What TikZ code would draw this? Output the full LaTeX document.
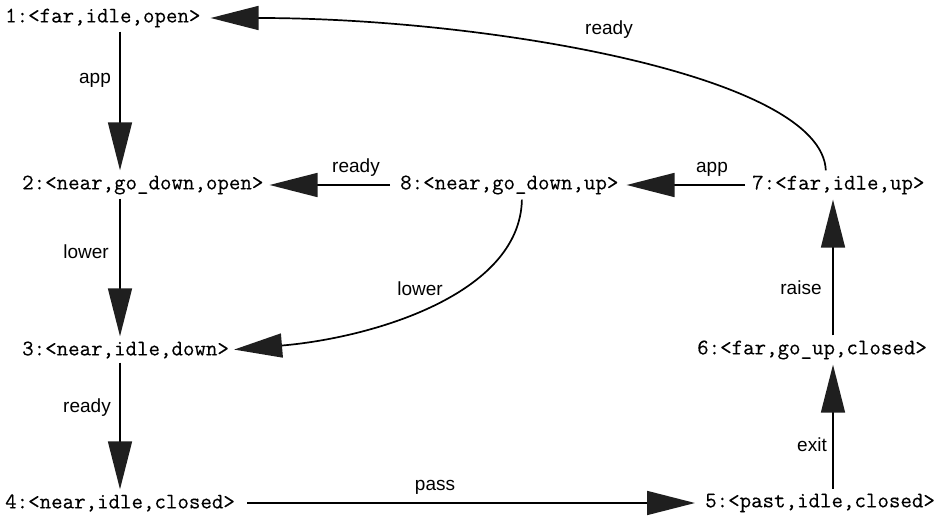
\documentclass[tikz,border=0pt]{standalone}
\usepackage{fontspec}
\setmainfont{Liberation Sans}
\newfontfamily\monofont[FakeBold=0.25]{Latin Modern Mono}
\usetikzlibrary{arrows.meta}
\begin{document}
\begin{tikzpicture}[x=1pt,y=-1pt,
  st/.style={font=\monofont\fontsize{22.3}{23}\selectfont, inner sep=0pt, anchor=west},
  lab/.style={font=\fontsize{19}{20}\selectfont, inner sep=0pt},
  arr/.style={line width=1.7pt, draw=black, -{Triangle[length=48pt,width=24pt,color=black!88,fill=black!88]}}]
\useasboundingbox (0,0) rectangle (943,521);
\fill[white] (0,0) rectangle (943,521);
% states
\node[st] (n1) at (5,18) {1:<far,idle,open>};
\node[st] (n2) at (22,185) {2:<near,go\_down,open>};
\node[st] (n8) at (400,185) {8:<near,go\_down,up>};
\node[st] (n7) at (752,185) {7:<far,idle,up>};
\node[st] (n3) at (22,350) {3:<near,idle,down>};
\node[st] (n6) at (697,350) {6:<far,go\_up,closed>};
\node[st] (n4) at (5,503) {4:<near,idle,closed>};
\node[st] (n5) at (705,503) {5:<past,idle,closed>};
% columns
\coordinate (cl) at (120,0);
\coordinate (cr) at (833,0);
\coordinate (c83) at (522,0);
\coordinate (c71) at (826,0);
% transitions
\draw[arr, shorten <=4pt, shorten >=5pt] (n1.south -| cl) -- (n2.north -| cl);
\draw[arr, shorten <=4pt, shorten >=5pt] (n2.south -| cl) -- (n3.north -| cl);
\draw[arr, shorten <=4pt, shorten >=5pt] (n3.south -| cl) -- (n4.north -| cl);
\draw[arr, shorten <=12pt, shorten >=10pt] (n4.east) -- (n5.west);
\draw[arr, shorten <=5pt, shorten >=5pt] (n5.north -| cr) -- (n6.south -| cr);
\draw[arr, shorten <=5pt, shorten >=5pt] (n6.north -| cr) -- (n7.south -| cr);
\draw[arr, shorten <=7pt, shorten >=8pt] (n7.west) -- (n8.east);
\draw[arr, shorten <=10pt, shorten >=6pt] (n8.west) -- (n2.east);
\draw[arr, shorten <=5pt, shorten >=5pt] (n8.south -| c83) .. controls +(-2,100) and +(142,-12) .. (n3.east);
\draw[arr, shorten <=5pt, shorten >=10pt] (n7.north -| c71) .. controls +(-4,-100) and +(285,0) .. (n1.east);
% labels
\node[lab] (l12) at (95,80) {app};
\node[lab] (l23) at (86,252) {lower};
\node[lab] (l34) at (87,408) {ready};
\node[lab] (l45) at (435,487) {pass};
\node[lab] (l56) at (812,445) {exit};
\node[lab] (l67) at (801,288) {raise};
\node[lab] (l78) at (712,169) {app};
\node[lab] (l82) at (356,168) {ready};
\node[lab] (l83) at (420,289) {lower};
\node[lab] (l71) at (609,30) {ready};
\end{tikzpicture}
\end{document}
